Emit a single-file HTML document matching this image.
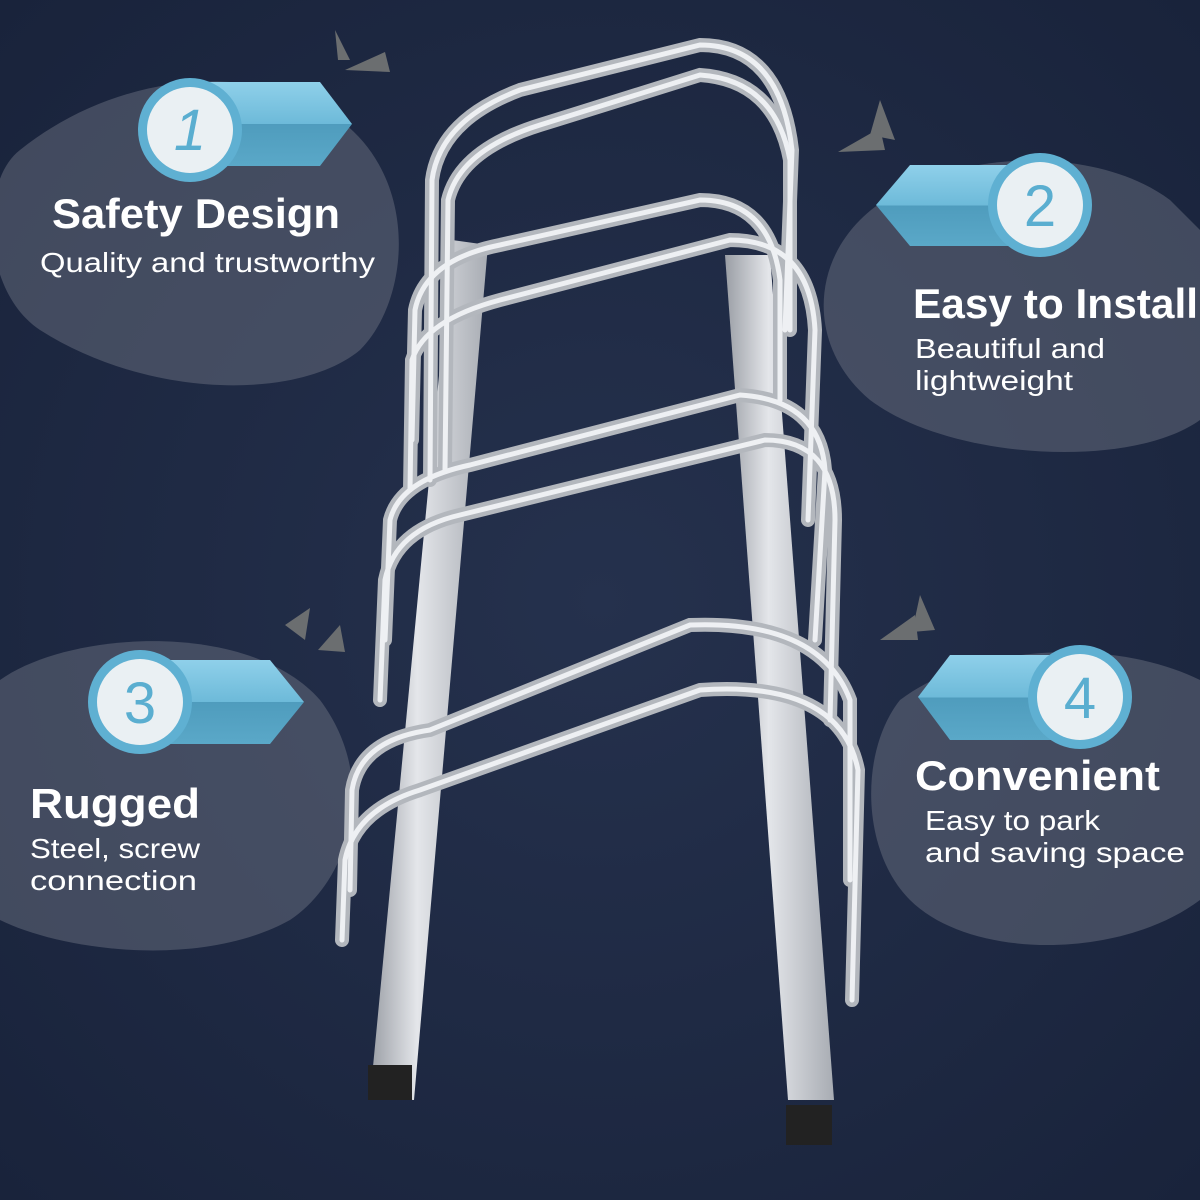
<!DOCTYPE html>
<html><head><meta charset="utf-8">
<style>
html,body{margin:0;padding:0;width:1200px;height:1200px;overflow:hidden;background:#1f2b45;}
svg{display:block}
text{font-family:"Liberation Sans",sans-serif;}
</style></head><body>
<svg width="1200" height="1200" viewBox="0 0 1200 1200" xmlns="http://www.w3.org/2000/svg">
<defs>
<radialGradient id="bg" cx="50%" cy="50%" r="70%">
<stop offset="0" stop-color="#25314d"/><stop offset="1" stop-color="#19233b"/>
</radialGradient>
<linearGradient id="rail" x1="0" x2="1">
<stop offset="0" stop-color="#9a9ea5"/><stop offset="0.4" stop-color="#e4e6ea"/><stop offset="1" stop-color="#a8acb3"/>
</linearGradient>
<linearGradient id="ban" x1="0" y1="0" x2="0" y2="1">
<stop offset="0" stop-color="#8fd0ea"/><stop offset="0.5" stop-color="#6dbad9"/><stop offset="0.5" stop-color="#4f9cbd"/><stop offset="1" stop-color="#5aa8c8"/>
</linearGradient>
</defs>
<rect width="1200" height="1200" fill="url(#bg)"/>

<g fill="#6a7080" fill-opacity="0.5">
<path d="M20,150 C120,70 260,60 340,120 C420,180 410,300 360,350 C300,400 150,400 40,330 C-20,290 -20,180 20,150Z"/>
<path d="M860,220 C930,150 1090,140 1170,200 L1200,230 L1200,420 C1130,470 950,460 870,400 C810,350 810,270 860,220Z"/>
<path d="M0,680 C70,630 250,620 320,700 C380,780 350,880 290,920 C200,970 60,950 0,920Z"/>
<path d="M900,700 C980,640 1120,640 1200,680 L1200,900 C1120,960 970,960 910,900 C860,850 860,750 900,700Z"/>
</g>

<g fill="#6b6e70">
<polygon points="335,30 350,60 338,60"/><polygon points="345,70 385,52 390,72"/>
<polygon points="880,100 895,140 870,135"/><polygon points="838,152 880,128 885,150"/>
<polygon points="285,625 310,608 305,640"/><polygon points="318,650 340,625 345,652"/>
<polygon points="920,595 935,630 912,632"/><polygon points="880,640 915,615 918,640"/>
</g>

<polygon points="452,240 488,245 414,1100 370,1098" fill="url(#rail)"/>
<rect x="368" y="1065" width="44" height="35" fill="#222"/>
<polygon points="725,255 770,255 834,1100 788,1100" fill="url(#rail)"/>
<rect x="786" y="1105" width="46" height="40" fill="#222"/>

<g fill="none" stroke-linecap="round">
<g stroke="#b3b7bd" stroke-width="14">
<path d="M430,480 L432,180 Q440,120 520,90 L700,45 Q780,45 792,150 L785,330"/>
<path d="M445,470 L448,200 Q460,150 540,125 L700,75 Q775,80 790,160 L790,330"/>
<path d="M412,440 L415,310 Q425,260 500,245 L700,200 Q770,200 780,280 L780,400"/>
<path d="M410,490 L412,360 Q425,320 500,300 L730,240 Q810,240 815,330 L808,520"/>
<path d="M385,640 L390,520 Q400,480 470,465 L740,395 Q820,400 825,470 L815,640"/>
<path d="M380,700 L385,580 Q395,530 460,515 L765,440 Q835,440 835,520 L830,720"/>
<path d="M350,890 L352,790 Q360,740 430,730 L690,625 Q820,620 850,700 L850,880"/>
<path d="M342,940 L345,860 Q355,810 420,790 L700,690 Q840,680 858,770 L852,1000"/>
</g>
<g stroke="#eef0f3" stroke-width="5">
<path d="M430,480 L432,180 Q440,120 520,90 L700,45 Q780,45 792,150 L785,330"/>
<path d="M445,470 L448,200 Q460,150 540,125 L700,75 Q775,80 790,160 L790,330"/>
<path d="M412,440 L415,310 Q425,260 500,245 L700,200 Q770,200 780,280 L780,400"/>
<path d="M410,490 L412,360 Q425,320 500,300 L730,240 Q810,240 815,330 L808,520"/>
<path d="M385,640 L390,520 Q400,480 470,465 L740,395 Q820,400 825,470 L815,640"/>
<path d="M380,700 L385,580 Q395,530 460,515 L765,440 Q835,440 835,520 L830,720"/>
<path d="M350,890 L352,790 Q360,740 430,730 L690,625 Q820,620 850,700 L850,880"/>
<path d="M342,940 L345,860 Q355,810 420,790 L700,690 Q840,680 858,770 L852,1000"/>
</g>
</g>

<g>
<polygon points="190,82 320,82 352,124 320,166 190,166" fill="url(#ban)"/>
<circle cx="190" cy="130" r="52" fill="#5fb0d2"/><circle cx="190" cy="130" r="43" fill="#eaf0f3"/>
<text x="190" y="150" font-size="58" fill="#5aaed0" text-anchor="middle" font-style="italic">1</text>

<polygon points="1040,165 910,165 876,205 910,246 1040,246" fill="url(#ban)"/>
<circle cx="1040" cy="205" r="52" fill="#5fb0d2"/><circle cx="1040" cy="205" r="43" fill="#eaf0f3"/>
<text x="1040" y="226" font-size="58" fill="#5aaed0" text-anchor="middle">2</text>

<polygon points="140,660 270,660 304,702 270,744 140,744" fill="url(#ban)"/>
<circle cx="140" cy="702" r="52" fill="#5fb0d2"/><circle cx="140" cy="702" r="43" fill="#eaf0f3"/>
<text x="140" y="723" font-size="58" fill="#5aaed0" text-anchor="middle">3</text>

<polygon points="1080,655 950,655 918,697 950,740 1080,740" fill="url(#ban)"/>
<circle cx="1080" cy="697" r="52" fill="#5fb0d2"/><circle cx="1080" cy="697" r="43" fill="#eaf0f3"/>
<text x="1080" y="718" font-size="58" fill="#5aaed0" text-anchor="middle">4</text>
</g>

<g fill="#ffffff">
<text x="52" y="228" font-size="42" font-weight="bold" textLength="288" lengthAdjust="spacingAndGlyphs">Safety Design</text>
<text x="40" y="272" font-size="28" textLength="335" lengthAdjust="spacingAndGlyphs">Quality and trustworthy</text>
<text x="913" y="318" font-size="42" font-weight="bold" textLength="285" lengthAdjust="spacingAndGlyphs">Easy to Install</text>
<text x="915" y="358" font-size="28" textLength="190" lengthAdjust="spacingAndGlyphs">Beautiful and</text>
<text x="915" y="390" font-size="28" textLength="158" lengthAdjust="spacingAndGlyphs">lightweight</text>
<text x="30" y="818" font-size="42" font-weight="bold" textLength="170" lengthAdjust="spacingAndGlyphs">Rugged</text>
<text x="30" y="858" font-size="28" textLength="170" lengthAdjust="spacingAndGlyphs">Steel, screw</text>
<text x="30" y="890" font-size="28" textLength="167" lengthAdjust="spacingAndGlyphs">connection</text>
<text x="915" y="790" font-size="42" font-weight="bold" textLength="245" lengthAdjust="spacingAndGlyphs">Convenient</text>
<text x="925" y="830" font-size="28" textLength="175" lengthAdjust="spacingAndGlyphs">Easy to park</text>
<text x="925" y="862" font-size="28" textLength="260" lengthAdjust="spacingAndGlyphs">and saving space</text>
</g>
</svg>
</body></html>
